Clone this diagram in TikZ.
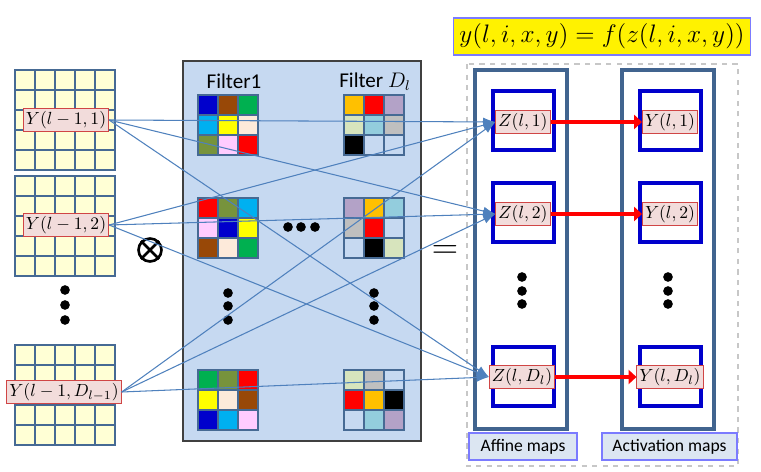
\documentclass[tikz,border=0pt]{standalone}
\usepackage{fontspec}
\newfontfamily\calibri{Carlito}
\usetikzlibrary{arrows.meta}

\definecolor{gridline}{HTML}{466A94}
\definecolor{gridfill}{HTML}{FFFFD5}
\definecolor{filterbg}{HTML}{C6D9F1}
\definecolor{labelred}{HTML}{D04545}
\definecolor{labelpink}{HTML}{F2DCDB}
\definecolor{linkblue}{HTML}{4F81BD}
\definecolor{colsteel}{HTML}{41648F}
\definecolor{boxblue}{HTML}{0000CC}
\definecolor{mapfill}{HTML}{DCE6F2}
\definecolor{mapedge}{HTML}{7B7BFF}
% filter cell colours
\definecolor{fblue}{HTML}{0000CC}
\definecolor{fbrown}{HTML}{984807}
\definecolor{fgreen}{HTML}{00B050}
\definecolor{fcyan}{HTML}{00B0F0}
\definecolor{fyellow}{HTML}{FFFF00}
\definecolor{flinen}{HTML}{FDEADA}
\definecolor{folive}{HTML}{77933C}
\definecolor{fpink}{HTML}{FFCCFF}
\definecolor{fred}{HTML}{FF0000}
\definecolor{forange}{HTML}{FFC000}
\definecolor{flav}{HTML}{B3A2C7}
\definecolor{fpale}{HTML}{D7E4BD}
\definecolor{flblue}{HTML}{93CDDD}
\definecolor{fgrey}{HTML}{BFBFBF}

% 3x3 filter: #1,#2 = top left corner, #3 = nine colours row by row
\newcommand{\filtergrid}[3]{%
    \foreach \fc [count=\i from 0] in {#3} {
        \pgfmathtruncatemacro{\cx}{mod(\i,3)}
        \pgfmathtruncatemacro{\ry}{div(\i,3)}
        \draw[cell, fill=\fc] (#1+20*\cx, #2+20*\ry) rectangle ++(20,20);
    }%
}

\begin{document}
\begin{tikzpicture}[
        x=0.02cm, y=-0.02cm,
        ycell/.style={draw=gridline, fill=gridfill, line width=1.1pt},
        cell/.style={draw=gridline, line width=0.8pt},
        maplabel/.style={draw=labelred, fill=labelpink, inner sep=1.5pt,
            minimum height=0.42cm, font=\normalsize},
        link/.style={-{Latex[length=7pt,width=5pt]}, draw=linkblue, line width=0.6pt},
        actarrow/.style={-{Triangle[length=4.5pt,width=8pt]}, draw=red, line width=2.8pt},
        column/.style={draw=colsteel, line width=1.8pt},
        inbox/.style={draw=boxblue, line width=1.8pt},
        mapname/.style={draw=mapedge, fill=mapfill, line width=0.8pt,
            minimum height=0.54cm, font=\calibri},
        dot/.style={circle, fill=black, inner sep=0pt, minimum size=5.5pt}
    ]
    \useasboundingbox (0,0) rectangle (761,472);

    % =====================================================
    % Left: input feature maps
    % =====================================================
    \foreach \top in {70,176,345} {
        \foreach \i in {0,...,4} {
            \foreach \j in {0,...,4} {
                \draw[ycell] (15+20*\i, \top+20*\j) rectangle ++(20,20);
            }
        }
    }

    \node[maplabel] (y1) at (66,120) {$Y(l-1,1)$};
    \node[maplabel] (y2) at (66,225) {$Y(l-1,2)$};
    \node[maplabel] (y3) at (64,392) {$Y(l-1,D_{l-1})$};

    \node[dot] (ld1) at (65,290) {};
    \node[dot] (ld2) at (65,305) {};
    \node[dot] (ld3) at (65,320) {};

    % convolution sign
    \node[circle, draw, line width=1.5pt, minimum size=0.46cm, inner sep=0pt] (prod) at (150,250) {};
    \draw[line width=1.5pt] (prod.north west) -- (prod.south east);
    \draw[line width=1.5pt] (prod.north east) -- (prod.south west);

    % =====================================================
    % Middle: filter bank
    % =====================================================
    \draw[fill=filterbg, draw=black!75, line width=1pt] (183,61) rectangle (421,441);

    \node[font=\calibri\large] (f1) at (234,81) {Filter1};
    \node[font=\calibri\large] (fd) at (375,82) {Filter $D_l$};

    \filtergrid{198}{95}{fblue,fbrown,fgreen,fcyan,fyellow,flinen,folive,fpink,fred}
    \filtergrid{344}{95}{forange,fred,flav,fpale,flblue,fgrey,black,filterbg,filterbg}
    \filtergrid{198}{198}{fred,folive,fcyan,fpink,fblue,fyellow,fbrown,flinen,fgreen}
    \filtergrid{344}{198}{flav,forange,flblue,fgrey,fred,filterbg,filterbg,black,fpale}
    \filtergrid{198}{370}{fgreen,folive,fred,fyellow,flinen,fbrown,fblue,fcyan,fpink}
    \filtergrid{344}{370}{fpale,fgrey,filterbg,fred,forange,black,filterbg,flblue,flav}

    \node[dot] (hd1) at (288,227) {};
    \node[dot] (hd2) at (301,227) {};
    \node[dot] (hd3) at (315,227) {};
    \node[dot] (fa1) at (228,293) {};
    \node[dot] (fa2) at (228,306) {};
    \node[dot] (fa3) at (228,320) {};
    \node[dot] (fb1) at (374,293) {};
    \node[dot] (fb2) at (374,306) {};
    \node[dot] (fb3) at (374,320) {};

    \node[font=\huge] (eq) at (445,252) {$=$};

    % =====================================================
    % Right: affine and activation maps
    % =====================================================
    \node[draw=mapedge, fill=yellow, line width=0.8pt, minimum width=5.84cm,
        minimum height=0.74cm, font=\fontsize{13.3}{16}\selectfont] (act) at (602,36.5)
        {$y(l,i,x,y) = f(z(l,i,x,y))$};

    \draw[dashed, draw=black!22, line width=0.6pt] (467,64) rectangle (738,466);

    \draw[column] (475,70) rectangle (567,429);
    \draw[column] (622,70) rectangle (714,429);

    \foreach \top in {91,183,347} {
        \draw[inbox] (493,\top) rectangle ++(61,59);
        \draw[inbox] (640,\top) rectangle ++(61,59);
    }

    \node[maplabel] (z1) at (523,122) {$Z(l,1)$};
    \node[maplabel] (z2) at (523,214) {$Z(l,2)$};
    \node[maplabel] (z3) at (522,377) {$Z(l,D_l)$};

    \node[maplabel] (a1) at (670,122) {$Y(l,1)$};
    \node[maplabel] (a2) at (670,214) {$Y(l,2)$};
    \node[maplabel] (a3) at (670,377) {$Y(l,D_l)$};

    \node[dot] (zd1) at (522,277) {};
    \node[dot] (zd2) at (522,291) {};
    \node[dot] (zd3) at (522,304) {};
    \node[dot] (ad1) at (668,277) {};
    \node[dot] (ad2) at (668,291) {};
    \node[dot] (ad3) at (668,304) {};

    \node[mapname, minimum width=2.16cm] (affname) at (523,446.5) {Affine maps};
    \node[mapname, minimum width=2.7cm] (actname) at (669.5,446.5) {Activation maps};

    % connections: every input map feeds every affine map
    \foreach \s in {y1,y2,y3} {
        \foreach \t in {z1,z2,z3} {
            \draw[link] (\s.east) -- (\t.west);
        }
    }

    % activation
    \draw[actarrow] (z1) -- (a1);
    \draw[actarrow] (z2) -- (a2);
    \draw[actarrow] (z3) -- (a3);

\end{tikzpicture}
\end{document}
